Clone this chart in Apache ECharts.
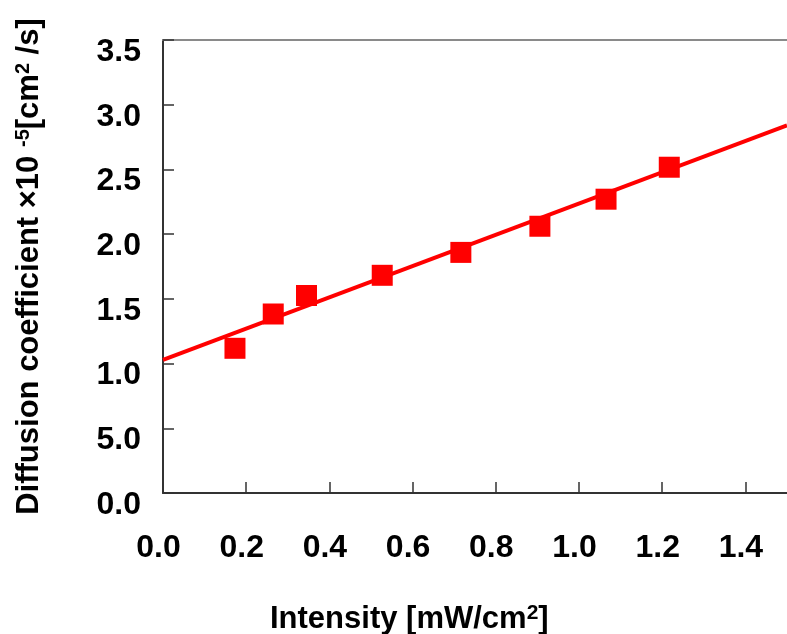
<!DOCTYPE html>
<html>
<head>
<meta charset="utf-8">
<script src="https://cdn.jsdelivr.net/npm/echarts@6/dist/echarts.min.js"></script>
<style>
  html, body { margin: 0; padding: 0; background: #fff; }
  #chart { width: 787px; height: 634px; }
</style>
</head>
<body>
<div id="chart"></div>
<script>
// measured points: intensity [mW/cm2] vs diffusion coefficient
const intensity = [0.173, 0.265, 0.345, 0.527, 0.716, 0.906, 1.065, 1.217];
const diffusion = [1.118, 1.383, 1.526, 1.682, 1.859, 2.061, 2.270, 2.517];

// linear fit line endpoints
const fitX = [0, 1.5];
const fitY = [1.028, 2.84];

// y tick labels as printed on the original (note the "5.0")
const yTickLabels = ['0.0', '5.0', '1.0', '1.5', '2.0', '2.5', '3.0', '3.5'];

const FONT = '"Liberation Sans", Arial, sans-serif';

const chart = echarts.init(document.getElementById('chart'), null, { renderer: 'canvas' });

chart.setOption({
  backgroundColor: '#fff',
  animation: false,
  grid: { left: 163, right: -8, top: 40, bottom: 141, containLabel: false },
  xAxis: [
    {
      type: 'value',
      min: 0, max: 1.5, interval: 0.2,
      axisLine: { lineStyle: { color: '#333', width: 2 } },
      axisTick: { inside: true, length: 11, lineStyle: { color: '#333', width: 1.5 } },
      splitLine: { show: false },
      axisLabel: {
        color: '#000', fontSize: 32, fontWeight: 'bold', fontFamily: FONT,
        margin: 39, padding: [0, 9, 0, 0],
        showMaxLabel: false,
        formatter: v => v.toFixed(1),
      },
    },
    {
      type: 'value', position: 'top',
      min: 0, max: 1.5,
      axisLine: { show: true, lineStyle: { color: '#8a8a8a', width: 2 } },
      axisTick: { show: false },
      axisLabel: { show: false },
      splitLine: { show: false },
    },
  ],
  yAxis: {
    type: 'value',
    min: 0, max: 3.5, interval: 0.5,
    name: 'Diffusion coefficient ×10 {sup|-5}[cm{sup|2} /s]',
    nameLocation: 'middle',
    nameRotate: 90,
    nameGap: 118,
    nameTextStyle: {
      color: '#000', fontSize: 31, fontWeight: 'bold', fontFamily: FONT,
      rich: {
        sup: { fontSize: 20, fontWeight: 'bold', fontFamily: FONT, color: '#000', verticalAlign: 'top', padding: [0, 0, 12, 0] },
      },
    },
    axisLine: { show: true, lineStyle: { color: '#333', width: 2 } },
    axisTick: { show: true, inside: true, length: 11, lineStyle: { color: '#333', width: 1.5 } },
    splitLine: { show: false },
    axisLabel: {
      color: '#000', fontSize: 32, fontWeight: 'bold', fontFamily: FONT,
      margin: 22, verticalAlign: 'top', lineHeight: 24,
      formatter: (v) => yTickLabels[Math.round(v / 0.5)],
    },
  },
  title: {
    text: 'Intensity [mW/cm{sup|2}]',
    left: 265, top: 598,
    textStyle: {
      color: '#000', fontSize: 31, fontWeight: 'bold', fontFamily: FONT,
      rich: {
        sup: { fontSize: 21, fontWeight: 'bold', fontFamily: FONT, color: '#000', verticalAlign: 'top', padding: [0, 0, 12, 0] },
      },
    },
  },
  series: [
    {
      name: 'fit',
      type: 'line',
      data: fitX.map((x, i) => [x, fitY[i]]),
      showSymbol: false,
      lineStyle: { color: '#ff0000', width: 4 },
      clip: true,
      z: 2,
    },
    {
      name: 'measured',
      type: 'scatter',
      data: intensity.map((x, i) => [x, diffusion[i]]),
      symbol: 'rect',
      symbolSize: 21,
      itemStyle: { color: '#ff0000', opacity: 1 },
      z: 3,
    },
  ],
});
</script>
</body>
</html>
